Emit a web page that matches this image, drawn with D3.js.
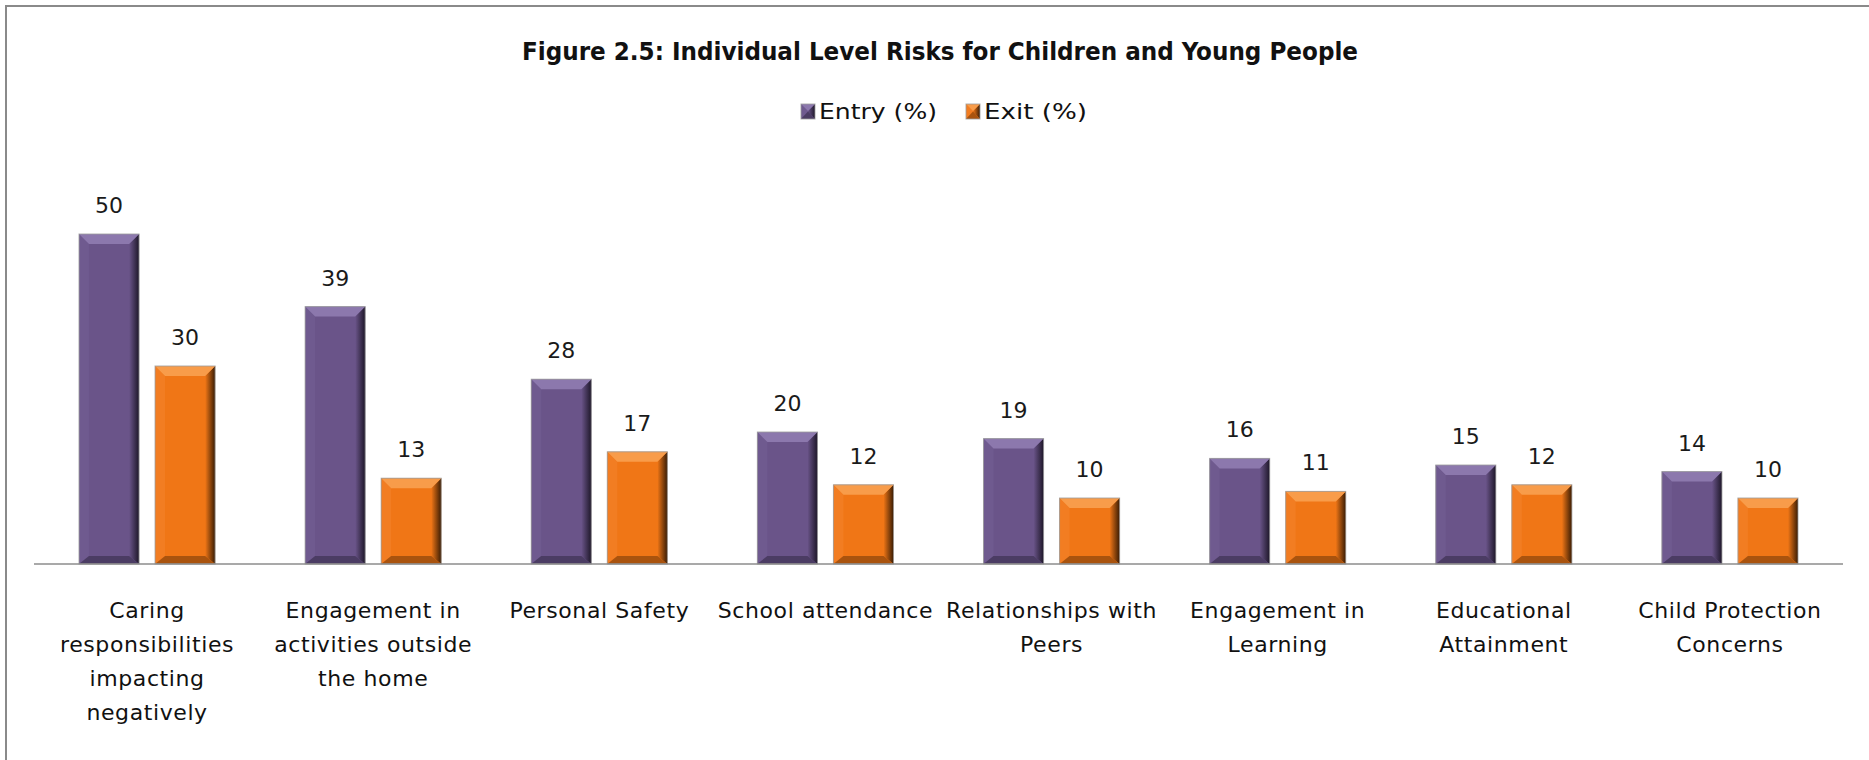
<!DOCTYPE html>
<html>
<head>
<meta charset="utf-8">
<script src="https://cdn.jsdelivr.net/npm/d3@7/dist/d3.min.js"></script>
<style>
  html, body { margin: 0; padding: 0; background: #ffffff; }
  svg { display: block; }
</style>
</head>
<body>
<svg id="chart" width="1869" height="760"></svg>
<script>
// ---- data ----
const titleText = "Figure 2.5: Individual Level Risks for Children and Young People";
const categories = [
  "Caring responsibilities impacting negatively",
  "Engagement in activities outside the home",
  "Personal Safety",
  "School attendance",
  "Relationships with Peers",
  "Engagement in Learning",
  "Educational Attainment",
  "Child Protection Concerns"
];
// wrapped tick labels, one array of lines per category
const categoryLines = [
  ["Caring", "responsibilities", "impacting", "negatively"],
  ["Engagement in", "activities outside", "the home"],
  ["Personal Safety"],
  ["School attendance"],
  ["Relationships with", "Peers"],
  ["Engagement in", "Learning"],
  ["Educational", "Attainment"],
  ["Child Protection", "Concerns"]
];
const seriesKeys = ["entry", "exit"];
const seriesNames = ["Entry (%)", "Exit (%)"];
const entryValues = [50, 39, 28, 20, 19, 16, 15, 14];
const exitValues  = [30, 13, 17, 12, 10, 11, 12, 10];

// ---- styling ----
const palette = {
  entry: { main: "#6a5489", top: "#8c78ad", left: "#6f5a8f", bottom: "#4b3c63", edge: "#1e1729" },
  exit:  { main: "#f07616", top: "#f89c4a", left: "#f27d22", bottom: "#a9530e", edge: "#3a1c04" }
};

const svg = d3.select("#chart");
const W = 1869, H = 760;

// frame
svg.append("rect")
  .attr("x", 6).attr("y", 6)
  .attr("width", W + 20).attr("height", H + 20)
  .attr("fill", "#ffffff")
  .attr("stroke", "#8a8a8a").attr("stroke-width", 2);

const defs = svg.append("defs");
seriesKeys.forEach(k => {
  const g = defs.append("linearGradient")
    .attr("id", "edge-" + k)
    .attr("x1", "0%").attr("x2", "100%").attr("y1", "0%").attr("y2", "0%");
  g.append("stop").attr("offset", "0%").attr("stop-color", palette[k].main);
  g.append("stop").attr("offset", "45%").attr("stop-color", d3.interpolateRgb(palette[k].main, palette[k].edge)(0.45));
  g.append("stop").attr("offset", "100%").attr("stop-color", palette[k].edge);
});

// ---- scales ----
const plotLeft = 34, plotRight = 1843, baseY = 564;
const x0 = d3.scaleBand().domain(categories).range([plotLeft, plotRight]).paddingInner(0).paddingOuter(0);
const x1 = d3.scaleBand().domain(seriesKeys)
  .range([x0.bandwidth() * 0.199, x0.bandwidth() * 0.801])
  .paddingInner(0.21).paddingOuter(0);
const y = d3.scaleLinear().domain([0, 60]).range([baseY, 168]);

const rows = categories.map((c, i) => ({
  category: c,
  values: [
    { key: "entry", value: entryValues[i] },
    { key: "exit", value: exitValues[i] }
  ]
}));

// ---- title ----
svg.append("text")
  .attr("x", 940).attr("y", 60)
  .attr("text-anchor", "middle")
  .attr("font-family", "'DejaVu Sans Condensed', 'Liberation Sans Narrow', 'DejaVu Sans', sans-serif")
  .attr("font-weight", "bold")
  .attr("font-size", 25)
  .attr("textLength", 836)
  .attr("lengthAdjust", "spacingAndGlyphs")
  .attr("fill", "#111")
  .text(titleText);

// ---- bevelled bar drawing ----
function bevelBar(g, x, yTop, w, h, k) {
  const p = palette[k];
  const b = Math.min(10, h / 2, w / 2);
  const bb = Math.min(8, h / 2);
  const yb = yTop + h;
  g.append("rect").attr("x", x).attr("y", yTop).attr("width", w).attr("height", h).attr("fill", p.main);
  // left face
  g.append("polygon").attr("fill", p.left)
    .attr("points", [[x, yTop], [x + b, yTop + b], [x + b, yb - bb], [x, yb]].join(" "));
  // right face
  g.append("polygon").attr("fill", "url(#edge-" + k + ")")
    .attr("points", [[x + w - b, yTop + b], [x + w, yTop], [x + w, yb], [x + w - b, yb - bb]].join(" "));
  // bottom face
  g.append("polygon").attr("fill", p.bottom)
    .attr("points", [[x, yb], [x + b, yb - bb], [x + w - b, yb - bb], [x + w, yb]].join(" "));
  // top face
  g.append("polygon").attr("fill", p.top)
    .attr("points", [[x, yTop], [x + w, yTop], [x + w - b, yTop + b], [x + b, yTop + b]].join(" "));
  // thin grey outline
  g.append("rect").attr("x", x).attr("y", yTop).attr("width", w).attr("height", h)
    .attr("fill", "none").attr("stroke", "#9c9c9c").attr("stroke-opacity", 0.8).attr("stroke-width", 1);
}

// ---- legend ----
const legend = svg.append("g").attr("class", "legend");
const legendItems = [
  { key: "entry", name: seriesNames[0], sx: 801, tx: 819, tw: 118 },
  { key: "exit",  name: seriesNames[1], sx: 966, tx: 984, tw: 103 }
];
legendItems.forEach(it => {
  const g = legend.append("g");
  bevelBar(g, it.sx, 104, 14, 15, it.key);
  g.append("text")
    .attr("x", it.tx).attr("y", 119)
    .attr("font-family", "'DejaVu Sans Condensed', 'Liberation Sans Narrow', 'DejaVu Sans', sans-serif")
    .attr("font-size", 22)
    .attr("textLength", it.tw)
    .attr("lengthAdjust", "spacingAndGlyphs")
    .attr("fill", "#111")
    .text(it.name);
});

// ---- bars ----
const groups = svg.append("g").attr("class", "bars")
  .selectAll("g").data(rows).join("g")
  .attr("transform", d => `translate(${x0(d.category)},0)`);

groups.each(function(d) {
  const g = d3.select(this);
  d.values.forEach(v => {
    const bx = x1(v.key), bw = x1.bandwidth();
    const top = y(v.value);
    bevelBar(g.append("g"), bx, top, bw, y(0) - top, v.key);
    g.append("text")
      .attr("x", bx + bw / 2).attr("y", top - 21)
      .attr("text-anchor", "middle")
      .attr("font-family", "'DejaVu Sans', Verdana, sans-serif")
      .attr("font-size", 22)
      .attr("fill", "#1a1a1a")
      .text(v.value);
  });
});

// ---- category axis ----
const xAxis = d3.axisBottom(x0).tickSize(0).tickPadding(0).tickFormat("");
const axisG = svg.append("g")
  .attr("transform", `translate(0,${baseY})`)
  .call(xAxis);
axisG.select(".domain").attr("stroke", "#8c8c8c").attr("stroke-width", 1.5)
  .attr("d", `M${plotLeft},0H${plotRight}`);

axisG.selectAll(".tick text").remove();
axisG.selectAll(".tick").each(function(c) {
  const i = categories.indexOf(c);
  const t = d3.select(this).append("text")
    .attr("text-anchor", "middle")
    .attr("font-family", "'DejaVu Sans', Verdana, sans-serif")
    .attr("font-size", 22)
    .attr("letter-spacing", 0.6)
    .attr("fill", "#111");
  categoryLines[i].forEach((line, j) => {
    t.append("tspan").attr("x", 0).attr("y", 54 + j * 34).text(line);
  });
});
</script>
</body>
</html>
